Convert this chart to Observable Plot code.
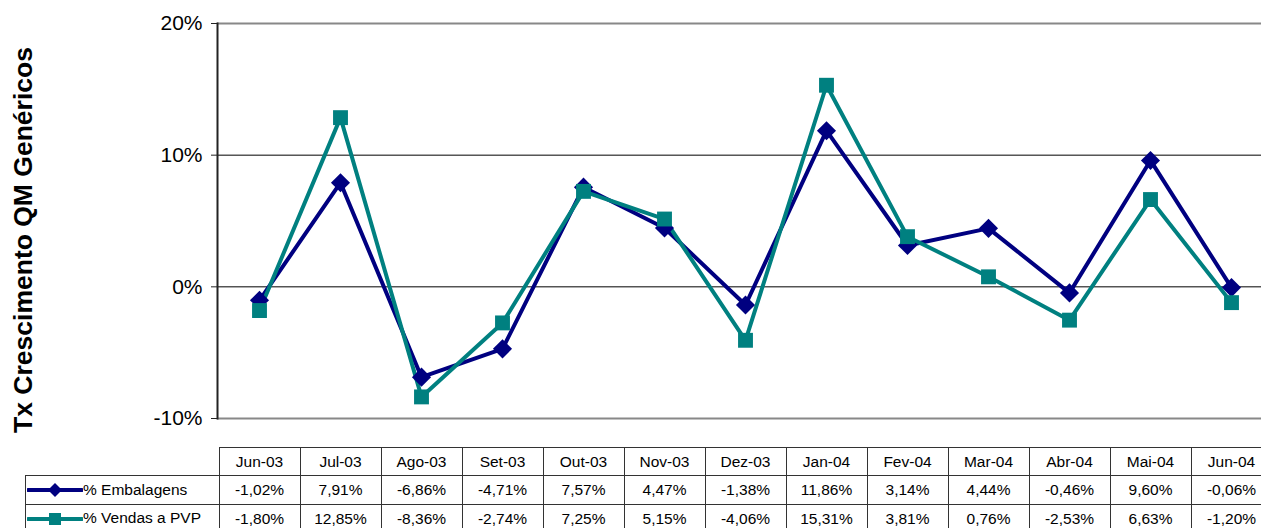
<!DOCTYPE html>
<html>
<head>
<meta charset="utf-8">
<script src="https://cdn.jsdelivr.net/npm/d3@7"></script>
<script src="https://cdn.jsdelivr.net/npm/@observablehq/plot@0.6"></script>
<style>
  html, body { margin: 0; padding: 0; background: #fff; }
  body { font-family: "Liberation Sans", Arial, sans-serif; color: #000; }
  #wrap { position: relative; width: 1261px; height: 528px; overflow: hidden; background: #fff; }
  #ytitle { position: absolute; left: 23px; top: 239.5px; transform: translate(-50%, -50%) rotate(-90deg);
            white-space: nowrap; font-weight: bold; font-size: 26.5px; line-height: 26.5px; }
  #chart { position: absolute; left: 0; top: 0; }
  #tbl { position: absolute; top: 447px; border-collapse: collapse; table-layout: fixed; font-size: 15.5px; }
  #tbl td { border: 1px solid #333; text-align: center; padding: 0; white-space: nowrap; overflow: hidden; }
  #tbl td.lg { text-align: left; }
  #tbl td.blank { border-top: none; border-left: none; }
  #tbl td.lg svg { vertical-align: middle; margin-left: 1px; }
</style>
</head>
<body>
<div id="wrap">
  <div id="chart"></div>
  <div id="ytitle"></div>
  <table id="tbl"></table>
</div>
<script>
const months = ["Jun-03","Jul-03","Ago-03","Set-03","Out-03","Nov-03","Dez-03","Jan-04","Fev-04","Mar-04","Abr-04","Mai-04","Jun-04"];
const embalagens = [-1.02, 7.91, -6.86, -4.71, 7.57, 4.47, -1.38, 11.86, 3.14, 4.44, -0.46, 9.60, -0.06];
const vendas = [-1.80, 12.85, -8.36, -2.74, 7.25, 5.15, -4.06, 15.31, 3.81, 0.76, -2.53, 6.63, -1.20];
const seriesNames = ["% Embalagens", "% Vendas a PVP"];
const yTicks = [-10, 0, 10, 20];
const yTitle = "Tx Crescimento QM Genéricos";

const navy = "#000080", teal = "#008080";
const embRows = months.map((m, i) => ({month: m, value: embalagens[i]}));
const venRows = months.map((m, i) => ({month: m, value: vendas[i]}));

const chart = Plot.plot({
  width: 1261,
  height: 447,
  marginLeft: 217,
  marginTop: 23,
  marginBottom: 29,
  marginRight: 0,
  style: {fontFamily: "'Liberation Sans', Arial, sans-serif", fontSize: "21px", color: "#000", background: "transparent"},
  x: {type: "point", domain: months, range: [217, 1273], padding: 0.5, axis: null},
  y: {domain: [-10, 20], axis: null},
  marks: [
    Plot.ruleY([0, 10], {stroke: "#000", strokeWidth: 1}),
    Plot.ruleY([20, -10], {stroke: "#888", strokeWidth: 2}),
    Plot.frame({anchor: "left", stroke: "#222", strokeWidth: 2}),
    Plot.axisY({ticks: yTicks, tickFormat: d => d + "%", tickSize: 6, tickPadding: 9, label: null, fontSize: 21, stroke: "#222"}),
    Plot.line(embRows, {x: "month", y: "value", stroke: navy, strokeWidth: 4}),
    Plot.line(venRows, {x: "month", y: "value", stroke: teal, strokeWidth: 4}),
    Plot.dot(embRows, {x: "month", y: "value", symbol: "diamond2", r: 8.6, fill: navy, stroke: "none"}),
    Plot.dot(venRows, {x: "month", y: "value", symbol: "square", r: 8.4, fill: teal, stroke: "none"})
  ]
});
document.getElementById("chart").appendChild(chart);
document.getElementById("ytitle").textContent = yTitle;

// Data table aligned with the x scale
const xs = chart.scale("x");
const step = xs.apply(months[1]) - xs.apply(months[0]);
const colLeft = xs.apply(months[0]) - step / 2;
const tableLeft = 25;
const tbl = document.getElementById("tbl");
tbl.style.left = tableLeft + "px";
tbl.style.width = (colLeft - tableLeft + step * months.length) + "px";
const cg = document.createElement("colgroup");
const c0 = document.createElement("col"); c0.style.width = (colLeft - tableLeft) + "px"; cg.appendChild(c0);
months.forEach(() => { const c = document.createElement("col"); c.style.width = step + "px"; cg.appendChild(c); });
tbl.appendChild(cg);

const fmt = v => v.toFixed(2).replace(".", ",") + "%";
const hdr = document.createElement("tr");
hdr.style.height = "28px";
const blank = document.createElement("td"); blank.className = "blank"; hdr.appendChild(blank);
months.forEach(m => { const td = document.createElement("td"); td.textContent = m; hdr.appendChild(td); });
tbl.appendChild(hdr);

function icon(color, kind) {
  const ns = "http://www.w3.org/2000/svg";
  const s = document.createElementNS(ns, "svg");
  s.setAttribute("width", 56); s.setAttribute("height", 18);
  const l = document.createElementNS(ns, "line");
  l.setAttribute("x1", 1); l.setAttribute("x2", 55); l.setAttribute("y1", 9); l.setAttribute("y2", 9);
  l.setAttribute("stroke", color); l.setAttribute("stroke-width", 4); l.setAttribute("stroke-linecap", "round");
  s.appendChild(l);
  const p = document.createElementNS(ns, "path");
  p.setAttribute("d", kind === "diamond" ? "M28,2L35,9L28,16L21,9Z" : "M22,3H34V15H22Z");
  p.setAttribute("fill", color);
  s.appendChild(p);
  return s;
}

[[seriesNames[0], embalagens, navy, "diamond", 29], [seriesNames[1], vendas, teal, "square", 28]].forEach(([name, vals, col, kind, h]) => {
  const tr = document.createElement("tr");
  tr.style.height = h + "px";
  const td0 = document.createElement("td"); td0.className = "lg";
  td0.appendChild(icon(col, kind));
  td0.appendChild(document.createTextNode(name));
  tr.appendChild(td0);
  vals.forEach(v => { const td = document.createElement("td"); td.textContent = fmt(v); tr.appendChild(td); });
  tbl.appendChild(tr);
});
</script>
</body>
</html>
